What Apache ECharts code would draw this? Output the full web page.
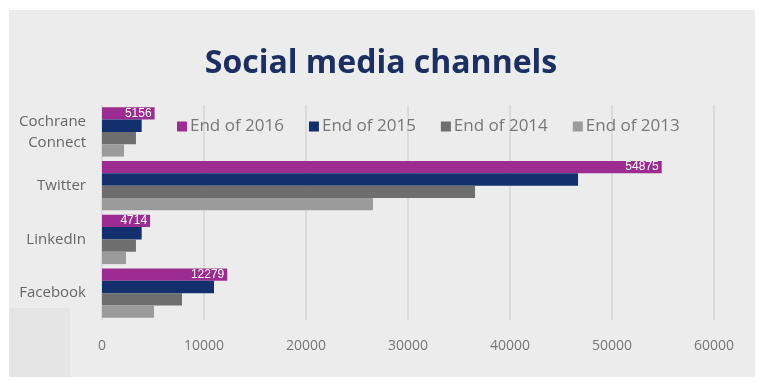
<!DOCTYPE html>
<html>
<head>
<meta charset="utf-8">
<script src="https://cdn.jsdelivr.net/npm/echarts@6/dist/echarts.min.js"></script>
<style>
  html, body { margin: 0; padding: 0; background: #fff; }
  #chart { width: 762px; height: 383px; }
</style>
</head>
<body>
<div id="chart"></div>
<script>
// 数据
const categories = ["Facebook", "LinkedIn", "Twitter", "Cochrane\nConnect"];
const end2016 = [12279, 4714, 54875, 5156];
const end2015 = [10980, 3890, 46670, 3890];
const end2014 = [7840, 3330, 36570, 3330];
const end2013 = [5100, 2350, 26570, 2160];
const xTicks = [0, 10000, 20000, 30000, 40000, 50000, 60000];

let mychart = echarts.init(document.getElementById("chart"));

function barSeries(name, data, color, showLabel) {
  return {
    name: name,
    type: "bar",
    data: data,
    barGap: "0%",
    barCategoryGap: "8%",
    itemStyle: { color: color },
    label: {
      show: showLabel,
      position: "insideRight",
      color: "#fff",
      fontSize: 12,
      distance: 3,
    },
  };
}

mychart.setOption({
  backgroundColor: "#fff",
  graphic: [
    // 灰色底板
    { type: "rect", shape: { x: 9, y: 10, width: 746, height: 367 }, style: { fill: "#ececec" }, z: -10 },
    { type: "rect", shape: { x: 9, y: 308, width: 61, height: 69 }, style: { fill: "#e5e5e5" }, z: -9 },
  ],
  title: {
    text: "Social media channels",
    left: "center",
    top: 43,
    textStyle: {
      color: "#1b2f60",
      fontSize: 32,
      fontWeight: "bold",
      fontFamily: "Open Sans",
    },
  },
  legend: {
    top: 113,
    left: 172,
    itemWidth: 10,
    itemHeight: 10,
    itemGap: 25,
    icon: "rect",
    textStyle: { color: "#777", fontSize: 17, fontFamily: "Open Sans", padding: [0, 0, 0, -2] },
    data: ["End of 2016", "End of 2015", "End of 2014", "End of 2013"],
  },
  grid: {
    left: 102,
    right: 48,
    top: 105,
    bottom: 63,
    containLabel: false,
  },
  xAxis: {
    type: "value",
    min: xTicks[0],
    max: xTicks[xTicks.length - 1],
    interval: 10000,
    axisLine: { show: false },
    axisTick: { show: false },
    axisLabel: {
      color: "#777",
      fontSize: 14,
      margin: 19,
      fontFamily: "Open Sans",
      formatter: (v) => String(v),
    },
    splitLine: { lineStyle: { color: "#d6d6d6", width: 1.5 } },
  },
  yAxis: {
    type: "category",
    data: categories,
    axisLine: { show: false },
    axisTick: { show: false },
    axisLabel: { color: "#666", fontSize: 15, margin: 16, lineHeight: 21, fontFamily: "Open Sans" },
  },
  // 横向柱状图里第一个系列在最上面
  series: [
    barSeries("End of 2016", end2016, "#9c2c91", true),
    barSeries("End of 2015", end2015, "#13306e", false),
    barSeries("End of 2014", end2014, "#6e6e6e", false),
    barSeries("End of 2013", end2013, "#9b9b9b", false),
  ],
});
</script>
</body>
</html>
